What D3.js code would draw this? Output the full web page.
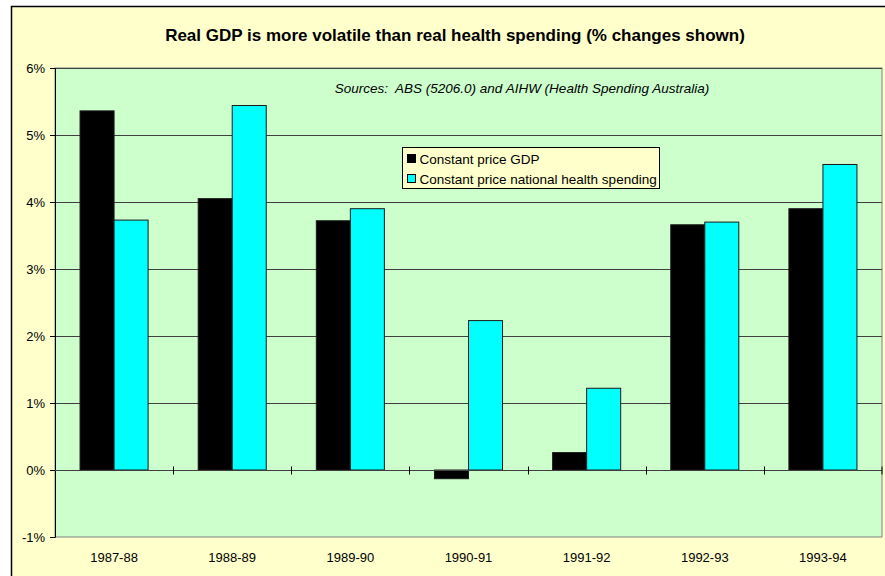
<!DOCTYPE html>
<html><head><meta charset="utf-8">
<script src="https://cdn.jsdelivr.net/npm/d3@7/dist/d3.min.js"></script>
<style>body{margin:0;background:#fff;}svg{display:block;font-family:Arial,"Liberation Sans",sans-serif;}</style>
</head><body>
<svg id="c" width="885" height="576"></svg>
<script>
const categories = ["1987-88","1988-89","1989-90","1990-91","1991-92","1992-93","1993-94"];
const gdp = [5.36, 4.05, 3.72, -0.13, 0.26, 3.66, 3.90];
const health = [3.73, 5.44, 3.90, 2.23, 1.22, 3.70, 4.56];
const seriesNames = ["Constant price GDP","Constant price national health spending"];
const yTicks = [-1,0,1,2,3,4,5,6];
const title = "Real GDP is more volatile than real health spending (% changes shown)";
const sourceNote = "Sources:  ABS (5206.0) and AIHW (Health Spending Australia)";

const svg = d3.select("#c");
svg.append("rect").attr("x",11.5).attr("y",6.5).attr("width",885).attr("height",580)
  .attr("fill","#FFFFCC").attr("stroke","#000").attr("stroke-width",1.5);

const L=55, R=882, T=68, B=537;
const y = d3.scaleLinear().domain([-1,6]).range([B,T]);
const x = d3.scaleBand().domain(categories).range([L,R]).paddingInner(0.424).paddingOuter(0.212);
const xc = d3.scaleBand().domain(categories).range([L,R]);
const x1 = d3.scaleBand().domain([0,1]).range([0,x.bandwidth()]);

svg.append("rect").attr("x",L).attr("y",T).attr("width",R-L).attr("height",B-T)
  .attr("fill","#CCFFCC").attr("stroke","#808080").attr("stroke-width",1);

// gridlines
svg.append("g").selectAll("line").data(yTicks.filter(d=>d>0)).join("line")
  .attr("x1",L).attr("x2",R).attr("y1",d=>Math.round(y(d))+0.5).attr("y2",d=>Math.round(y(d))+0.5)
  .attr("stroke","#404040").attr("stroke-width",1);

// bars
const data = categories.map((c,i)=>({c, v:[gdp[i],health[i]]}));
const colors = ["#000000","#00FFFF"];
const g = svg.append("g");
data.forEach(d=>{
  d.v.forEach((v,j)=>{
    g.append("rect")
      .attr("x",x(d.c)+x1(j)).attr("width",x1.bandwidth())
      .attr("y",y(Math.max(0,v))).attr("height",Math.abs(y(v)-y(0)))
      .attr("fill",colors[j]).attr("stroke","#1a1a1a").attr("stroke-width",1);
  });
});

// y axis
const ya = d3.axisLeft(y).tickValues(yTicks).tickFormat(d=>d+"%").tickSize(5).tickPadding(5);
const yg = svg.append("g").attr("transform",`translate(${L},0)`).call(ya);
yg.select(".domain").attr("stroke","#000");
yg.selectAll(".tick line").attr("stroke","#000");
yg.selectAll("text").attr("font-size",13).attr("fill","#000").attr("font-family","Arial, Liberation Sans, sans-serif");

// x axis at zero
const y0 = Math.round(y(0))+0.5;
svg.append("line").attr("x1",L).attr("x2",R).attr("y1",y0).attr("y2",y0).attr("stroke","#404040");
svg.append("g").selectAll("line").data(categories.slice(1).concat(["__end"])).join("line")
  .attr("x1",d=>d==="__end"?R:Math.round(xc(d))+0.5).attr("x2",d=>d==="__end"?R:Math.round(xc(d))+0.5)
  .attr("y1",y0-4).attr("y2",y0+4).attr("stroke","#000");

svg.append("g").selectAll("text").data(categories).join("text")
  .attr("x",d=>xc(d)+xc.bandwidth()/2).attr("y",562).attr("text-anchor","middle")
  .attr("font-size",13).text(d=>d);

// title
svg.append("text").attr("x",455).attr("y",41).attr("text-anchor","middle")
  .attr("font-size",17).attr("font-weight","bold").text(title);
svg.append("text").attr("x",522).attr("y",93).attr("text-anchor","middle")
  .attr("font-size",13.5).attr("font-style","italic").style("white-space","pre").text(sourceNote);

// legend
const lg = svg.append("g").attr("transform","translate(402.5,147.5)");
lg.append("rect").attr("width",257).attr("height",41).attr("fill","#FFFFCC").attr("stroke","#000");
seriesNames.forEach((n,i)=>{
  lg.append("rect").attr("x",5).attr("y",7+i*20).attr("width",8).attr("height",8)
    .attr("fill",colors[i]).attr("stroke","#000");
  lg.append("text").attr("x",17).attr("y",16+i*20).attr("font-size",13.5).text(n);
});
</script>
</body></html>
